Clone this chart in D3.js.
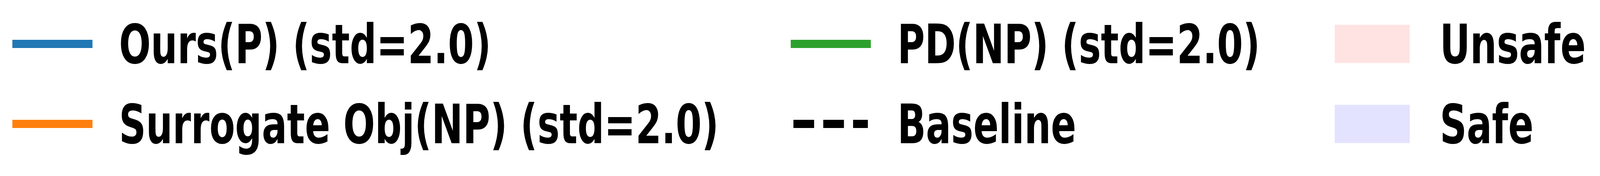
<!DOCTYPE html>
<html>
<head>
<meta charset="utf-8">
<script src="https://cdn.jsdelivr.net/npm/d3@7"></script>
<style>
  html, body { margin: 0; padding: 0; background: white; overflow: hidden; }
  svg { display: block; width: 100vw; height: 100vh; }
</style>
</head>
<body>
<svg></svg>
<script>
const svg_width = 5953;
const svg_height = 451;

// legend entries, column by column
const line_labels = ["Ours(P) (std=2.0)", "Surrogate Obj(NP) (std=2.0)", "PD(NP) (std=2.0)", "Baseline"];
const line_colors = ["#1f77b4", "#ff7f0e", "#2ca02c", "black"];
const line_dashed = [false, false, false, true];
const line_columns = [0, 0, 1, 1];
const line_rows = [0, 1, 0, 1];

const patch_labels = ["Unsafe", "Safe"];
const patch_colors = ["red", "blue"];
const patch_rows = [0, 1];
const patch_column = 2;

// drawn in a 5953x451 frame, stretched to whatever window we get
const svg = d3.select("svg")
    .attr("viewBox", `0 0 ${svg_width} ${svg_height}`)
    .attr("preserveAspectRatio", "none");

const font_size = 139;
const handle_len = 298;
const text_pad = 397;

// column origins and row centres
const x = d3.scaleOrdinal().domain([0, 1, 2]).range([46, 2942, 4960]);
const y = d3.scalePoint().domain([0, 1]).range([112.5, 317.5]);

const lines = svg.append("g").attr("class", "lines");

line_labels.forEach((label, i) => {
    const x0 = x(line_columns[i]);
    const yc = y(line_rows[i]);
    const handle = lines.append("line")
        .attr("x1", line_dashed[i] ? x0 + 10 : x0)
        .attr("x2", line_dashed[i] ? x0 + 287 : x0 + handle_len)
        .attr("y1", yc)
        .attr("y2", yc)
        .attr("stroke", line_colors[i])
        .attr("stroke-width", 21);
    if (line_dashed[i]) {
        handle.attr("stroke-dasharray", "77,34");
    }
    lines.append("text")
        .attr("x", x0 + text_pad)
        .attr("y", yc + 50)
        .text(label);
});

const patches = svg.append("g").attr("class", "patches");

patch_labels.forEach((label, i) => {
    const x0 = x(patch_column);
    const yc = y(patch_rows[i]);
    patches.append("rect")
        .attr("x", x0 + 6)
        .attr("y", yc - 49)
        .attr("width", 279)
        .attr("height", 98)
        .attr("fill", patch_colors[i])
        .attr("fill-opacity", 0.11);
    patches.append("text")
        .attr("x", x0 + text_pad)
        .attr("y", yc + 50)
        .text(label);
});

svg.selectAll("text")
    .attr("font-family", "DejaVu Sans")
    .attr("font-weight", "bold")
    .attr("font-size", font_size)
    .attr("fill", "black");
</script>
</body>
</html>
